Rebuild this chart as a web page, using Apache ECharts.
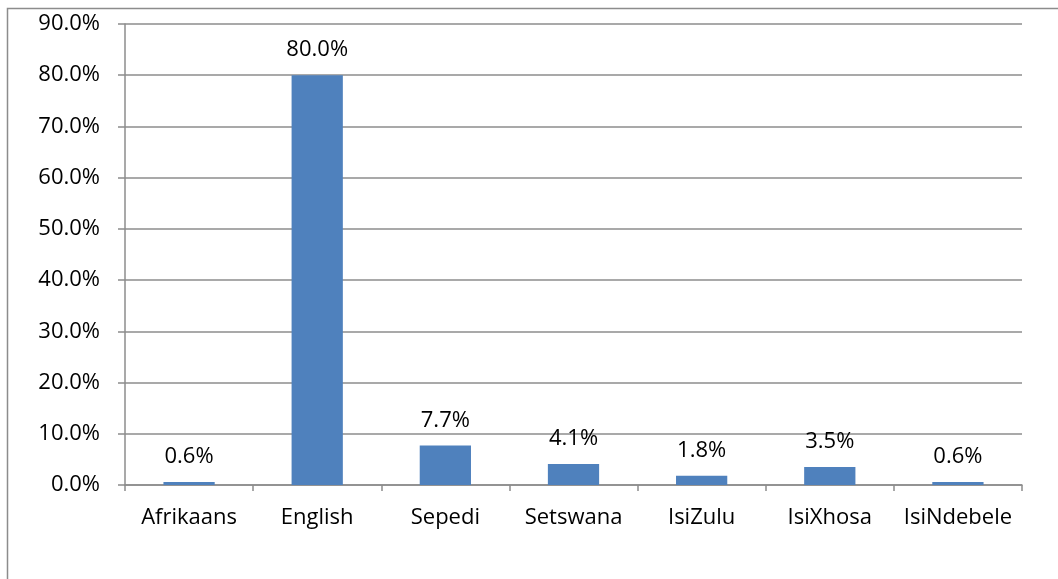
<!DOCTYPE html>
<html>
<head>
<meta charset="utf-8">
<script src="https://cdn.jsdelivr.net/npm/echarts@6/dist/echarts.min.js"></script>
<style>
  html, body { margin: 0; padding: 0; background: #fff; }
  #chart { width: 1058px; height: 579px; }
</style>
</head>
<body>
<div id="chart"></div>
<script>
const categories = ['Afrikaans', 'English', 'Sepedi', 'Setswana', 'IsiZulu', 'IsiXhosa', 'IsiNdebele'];
const shares = [0.6, 80.0, 7.7, 4.1, 1.8, 3.5, 0.6];

const chart = echarts.init(document.getElementById('chart'));
const font = 'Open Sans';
const fs = 22;

chart.setOption({
  animation: false,
  textStyle: { fontFamily: font },
  graphic: [{
    type: 'rect',
    shape: { x: 7.5, y: 8.5, width: 1200, height: 800 },
    style: { fill: 'none', stroke: '#8c8c8c', lineWidth: 1.5 },
    silent: true
  }],
  grid: { left: 125, right: 36, top: 24, bottom: 94 },
  xAxis: {
    type: 'category',
    data: categories,
    axisLine: { lineStyle: { color: '#8c8c8c', width: 1.5 } },
    axisTick: { show: true, interval: 0, length: 6, alignWithLabel: false, lineStyle: { color: '#8c8c8c', width: 1.5 } },
    axisLabel: { color: '#000', fontSize: fs, margin: 22, interval: 0, fontFamily: font }
  },
  yAxis: {
    type: 'value',
    min: 0,
    max: 90,
    interval: 10,
    axisLine: { show: true, lineStyle: { color: '#8c8c8c', width: 1.5 } },
    axisTick: { show: true, length: 7, lineStyle: { color: '#8c8c8c', width: 1.5 } },
    splitLine: { lineStyle: { color: '#8c8c8c', width: 1.5 } },
    axisLabel: {
      color: '#000', fontSize: fs, margin: 25, fontFamily: font,
      formatter: v => v.toFixed(1) + '%'
    }
  },
  series: [{
    type: 'bar',
    data: shares,
    barWidth: '40%',
    itemStyle: { color: '#4f81bd' },
    label: {
      show: true,
      position: 'top',
      distance: 14,
      color: '#000',
      fontSize: fs,
      fontFamily: font,
      formatter: p => p.value.toFixed(1) + '%'
    }
  }]
});
</script>
</body>
</html>
